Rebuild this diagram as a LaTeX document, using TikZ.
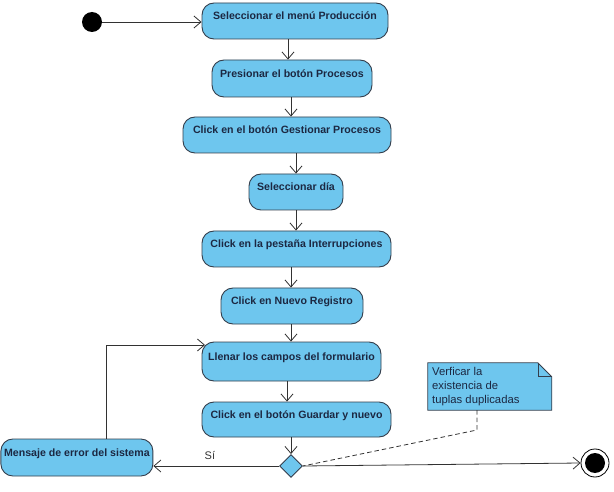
\documentclass[tikz,border=0pt]{standalone}
\usepackage{fontspec}
\setmainfont{Liberation Sans}
\usetikzlibrary{arrows.meta,shapes.geometric,shapes.misc}
\definecolor{actfill}{RGB}{110,198,238}
\definecolor{actline}{RGB}{52,62,76}
\definecolor{acttext}{RGB}{28,40,66}
\definecolor{wire}{RGB}{50,50,50}
\tikzset{
  act/.style={draw=actline, line width=0.9pt, fill=actfill, rounded corners=12pt,
    text=acttext, font=\fontsize{10.6}{12}\selectfont\bfseries, inner sep=0pt,
    text height=8pt, text depth=10pt},
  arr/.style={draw=wire, line width=0.8pt, -{Straight Barb[length=7pt,width=12pt]}},
  dsh/.style={draw=wire, line width=0.8pt, dash pattern=on 4.5pt off 3pt}
}
\begin{document}
\begin{tikzpicture}[x=1pt,y=-1pt]
\useasboundingbox (0,0) rectangle (614,492);
% initial
\node[circle, fill=black, minimum size=20pt, inner sep=0pt] (init) at (92,22) {};
% activities
\node[act, minimum width=186pt, minimum height=36pt] (b1) at (295,21) {Seleccionar el menú Producción};
\node[act, minimum width=160pt, minimum height=37pt] (b2) at (292,78.5) {Presionar el botón Procesos};
\node[act, minimum width=208pt, minimum height=36pt] (b3) at (287,135) {Click en el botón Gestionar Procesos};
\node[act, minimum width=94pt, minimum height=36pt] (b4) at (296,192) {Seleccionar día};
\node[act, minimum width=189pt, minimum height=36pt] (b5) at (296.5,249) {Click en la pestaña Interrupciones};
\node[act, minimum width=142pt, minimum height=36pt] (b6) at (292,306) {Click en Nuevo Registro};
\node[act, minimum width=179pt, minimum height=39pt] (b7) at (291.5,361.5) {Llenar los campos del formulario};
\node[act, minimum width=189pt, minimum height=35pt] (b8) at (296.5,419.5) {Click en el botón Guardar y nuevo};
\node[act, minimum width=152pt, minimum height=37pt] (err) at (76.9,457.5) {Mensaje de error del sistema};
% decision
\node[diamond, draw=actline, line width=0.9pt, fill=actfill, minimum width=23pt, minimum height=23pt, inner sep=0pt] (dec) at (291,466) {};
% final
\node[circle, draw=black, line width=0.8pt, fill=white, minimum size=28pt, inner sep=0pt] (fin) at (595,463) {};
\node[circle, fill=black, minimum size=20pt, inner sep=0pt] (fincore) at (595,463) {};
% note
\coordinate (nTL) at (428,363);
\node[inner sep=0pt, minimum width=124pt, minimum height=47pt] (note) at (490,386.5) {};
\filldraw[draw=actline, line width=0.8pt, fill=actfill]
  (note.north west) -- ++(110,0) -- ++(14,14) |- (note.south west) -- cycle;
\draw[actline, line width=0.8pt] (note.north east) ++(-14,0) |- ++(14,14);
\node[anchor=north west, align=left, text=acttext, font=\fontsize{11.3}{14}\selectfont, inner sep=0pt] (notetext) at (432,367)
  {Verficar la\\existencia de\\tuplas duplicadas};
% flow
\draw[arr] (init) -- (b1.west |- init);
\draw[arr] (b1.south -| 288,0) -- (b2.north -| 288,0);
\draw[arr] (b2.south -| 291,0) -- (b3.north -| 291,0);
\draw[arr] (b3.south -| 296,0) -- (b4.north -| 296,0);
\draw[arr] (b4.south -| 296,0) -- (b5.north -| 296,0);
\draw[arr] (b5.south -| 291,0) -- (b6.north -| 291,0);
\draw[arr] (b6.south -| 291,0) -- (b7.north -| 291,0);
\draw[arr] (b7.south -| 287,0) -- (b8.north -| 287,0);
\draw[arr] (b8.south -| 291,0) -- (dec.north);
\draw[arr] (dec.west) -- (err.east |- dec.west) node[pos=0.55, above=3pt, font=\fontsize{11}{12}\selectfont, text=black!80] (si) {Sí};
\coordinate (loopend) at (205,345);
\draw[arr] (err.north -| 106,0) |- (loopend);
\draw[arr] (dec.east) -- (fin.west);
\coordinate (bend) at (477,430);
\draw[dsh] (note.south -| bend) -- (bend) -- (dec.east);
\end{tikzpicture}
\end{document}
